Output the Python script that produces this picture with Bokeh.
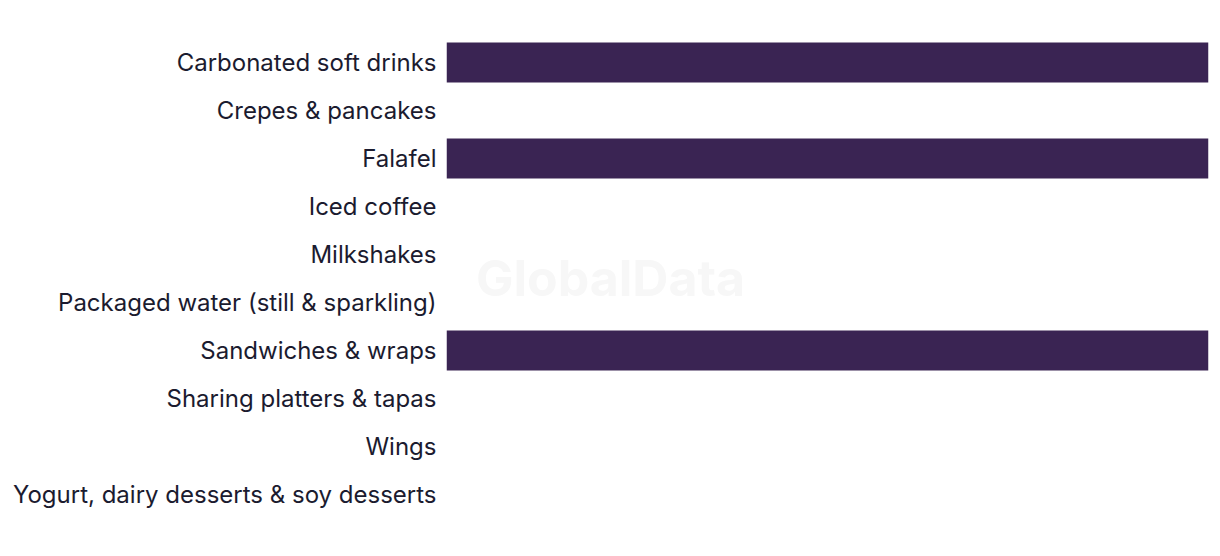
from bokeh.plotting import figure
from bokeh.models import FactorRange, Range1d, Label
from bokeh.embed import file_html
from bokeh.resources import INLINE

categories = [
    "Carbonated soft drinks",
    "Crepes & pancakes",
    "Falafel",
    "Iced coffee",
    "Milkshakes",
    "Packaged water (still & sparkling)",
    "Sandwiches & wraps",
    "Sharing platters & tapas",
    "Wings",
    "Yogurt, dairy desserts & soy desserts",
]
values = [1, 0, 1, 0, 0, 0, 1, 0, 0, 0]

p = figure(
    width=1212, height=548,
    y_range=FactorRange(factors=categories[::-1], range_padding=0),
    x_range=Range1d(0, 1),
    output_backend="svg", toolbar_location=None,
    min_border_left=446, min_border_right=4, min_border_top=38, min_border_bottom=30,
)
p.hbar(y=categories, right=values, left=0, height=0.833, fill_color="#3a2453", line_color=None)

p.xaxis.visible = False
p.yaxis.axis_line_color = None
p.yaxis.major_tick_line_color = None
p.yaxis.minor_tick_line_color = None
p.yaxis.major_tick_out = 0
p.yaxis.major_label_standoff = 10
p.yaxis.major_label_text_font = "Inter"
p.yaxis.major_label_text_font_size = "24px"
p.yaxis.major_label_text_color = "#1b1b2f"
p.xgrid.visible = False
p.ygrid.visible = False
p.outline_line_color = None

wm = Label(x=164, y=241, x_units="screen", y_units="screen", text="GlobalData",
           text_font="Inter", text_font_style="bold", text_font_size="50px",
           text_color="#f7f7f7", text_align="center", text_baseline="middle", level="underlay")
p.add_layout(wm)

open("out.html", "w").write(file_html(p, INLINE))
